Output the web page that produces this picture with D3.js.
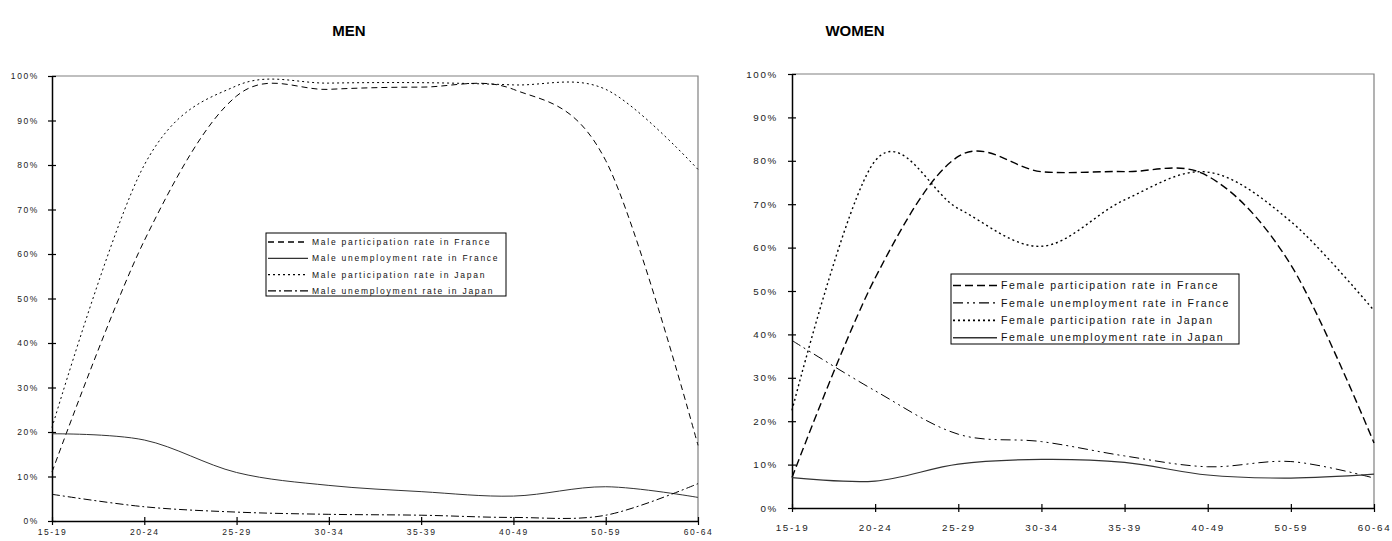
<!DOCTYPE html>
<html>
<head>
<meta charset="utf-8">
<script src="https://cdn.jsdelivr.net/npm/d3@7"></script>
<style>
  body { margin: 0; background: #fff; }
  svg { display: block; font-family: 'Liberation Sans', Arial, sans-serif; }
</style>
</head>
<body>
<svg id="chart" width="1392" height="541"></svg>
<script>
const AGE_GROUPS = ['15-19', '20-24', '25-29', '30-34', '35-39', '40-49', '50-59', '60-64'];
const Y_TICKS = [0, 10, 20, 30, 40, 50, 60, 70, 80, 90, 100];

// MEN (%)
const MEN_PART_FR = [11, 63, 95.5, 97, 97.5, 97, 81, 17];
const MEN_UNEMP_FR = [19.6, 18.2, 10.9, 8.0, 6.6, 5.6, 7.7, 5.3];
const MEN_PART_JP = [21, 80, 97.8, 98.4, 98.5, 98, 97, 79];
const MEN_UNEMP_JP = [6.0, 3.2, 2.0, 1.5, 1.3, 0.8, 1.3, 8.4];

// WOMEN (%)
const WOMEN_PART_FR = [7, 53, 81, 77.5, 77.5, 76.5, 56, 15];
const WOMEN_UNEMP_FR = [38.6, 27, 17, 15.3, 12, 9.5, 10.7, 6.9];
const WOMEN_PART_JP = [22.5, 80, 69, 60.3, 71, 77.4, 66, 45.5];
const WOMEN_UNEMP_JP = [7.0, 6.2, 10.1, 11.2, 10.5, 7.6, 6.9, 7.8];

const svg = d3.select('#chart');

function drawPanel(p) {
  const x = d3.scalePoint().domain(AGE_GROUPS).range([p.left, p.right]);
  const y = d3.scaleLinear().domain([0, 100]).range([p.bottom, p.top]);
  const g = svg.append('g');

  g.append('text')
    .attr('x', p.titleX).attr('y', 36)
    .attr('text-anchor', 'middle')
    .attr('font-weight', 'bold').attr('font-size', 15)
    .text(p.title);

  // plot area frame (top and right grey)
  g.append('path')
    .attr('d', `M${p.left},${p.top}H${p.right}V${p.bottom}`)
    .attr('fill', 'none').attr('stroke', '#808080').attr('stroke-width', 1.2);

  const yAxis = g.append('g')
    .attr('transform', `translate(${p.left},0)`)
    .call(d3.axisLeft(y).tickValues(Y_TICKS).tickFormat(d => d + '%').tickSize(4).tickSizeOuter(0).tickPadding(p.yPad));
  yAxis.selectAll('.tick line').attr('x1', 4);

  const xAxis = g.append('g')
    .attr('transform', `translate(0,${p.bottom})`)
    .call(d3.axisBottom(x).tickSize(4).tickSizeOuter(0).tickPadding(p.xPad));
  xAxis.selectAll('.tick line').attr('y1', -4);

  [yAxis, xAxis].forEach(a => {
    a.select('.domain').attr('stroke', '#000').attr('stroke-width', 1.5);
    a.selectAll('.tick line').attr('stroke', '#000').attr('stroke-width', 1.2);
    a.selectAll('text')
      .attr('font-size', p.tickFont)
      .attr('letter-spacing', p.tickSpacing)
      .attr('fill', '#222')
      .style('font-family', "'Liberation Sans', Arial, sans-serif");
  });

  const line = d3.line()
    .x((d, i) => x(AGE_GROUPS[i]))
    .y(d => y(d))
    .curve(d3.curveCardinal.tension(0));

  p.series.forEach(s => {
    g.append('path')
      .attr('d', line(s.values))
      .attr('fill', 'none')
      .attr('stroke', s.color)
      .attr('stroke-width', s.width)
      .attr('stroke-dasharray', s.dash);
  });

  const lg = p.legend;
  const leg = g.append('g');
  leg.append('rect')
    .attr('x', lg.x).attr('y', lg.y).attr('width', lg.w).attr('height', lg.h)
    .attr('fill', '#fff').attr('stroke', '#000').attr('stroke-width', 1);
  p.series.forEach((s, i) => {
    const cy = lg.y + lg.first + i * lg.step;
    leg.append('line')
      .attr('x1', lg.x + 2).attr('x2', lg.x + 2 + lg.sample)
      .attr('y1', cy).attr('y2', cy)
      .attr('stroke', s.color).attr('stroke-width', s.width + 0.3)
      .attr('stroke-dasharray', s.dash);
    leg.append('text')
      .attr('x', lg.x + lg.sample + 6).attr('y', cy)
      .attr('dy', '0.35em')
      .attr('font-size', lg.font)
      .attr('letter-spacing', lg.spacing)
      .attr('fill', '#111')
      .text(s.label);
  });
}

drawPanel({
  title: 'MEN', titleX: 349,
  left: 52, right: 698, top: 76, bottom: 521,
  tickFont: 8.5, tickSpacing: 1.6, yPad: 9, xPad: 4,
  series: [
    { label: 'Male participation rate in France', values: MEN_PART_FR, color: '#000', width: 1, dash: '6,4' },
    { label: 'Male unemployment rate in France', values: MEN_UNEMP_FR, color: '#333', width: 1, dash: null },
    { label: 'Male participation rate in Japan', values: MEN_PART_JP, color: '#000', width: 1, dash: '2,3' },
    { label: 'Male unemployment rate in Japan', values: MEN_UNEMP_JP, color: '#000', width: 1, dash: '8,3,2,3' }
  ],
  legend: { x: 266, y: 233, w: 240, h: 63, first: 9, step: 16.3, sample: 40, font: 8.5, spacing: 1.75 }
});

drawPanel({
  title: 'WOMEN', titleX: 855,
  left: 792, right: 1374, top: 74, bottom: 508,
  tickFont: 9.8, tickSpacing: 1.7, yPad: 10, xPad: 12,
  series: [
    { label: 'Female participation rate in France', values: WOMEN_PART_FR, color: '#000', width: 1.4, dash: '8,4' },
    { label: 'Female unemployment rate in France', values: WOMEN_UNEMP_FR, color: '#000', width: 1, dash: '10,4,2,4,2,4' },
    { label: 'Female participation rate in Japan', values: WOMEN_PART_JP, color: '#000', width: 1.4, dash: '2,3' },
    { label: 'Female unemployment rate in Japan', values: WOMEN_UNEMP_JP, color: '#333', width: 1.2, dash: null }
  ],
  legend: { x: 951, y: 274, w: 288, h: 70, first: 11.5, step: 17.4, sample: 44, font: 10.5, spacing: 1.6 }
});
</script>
</body>
</html>
